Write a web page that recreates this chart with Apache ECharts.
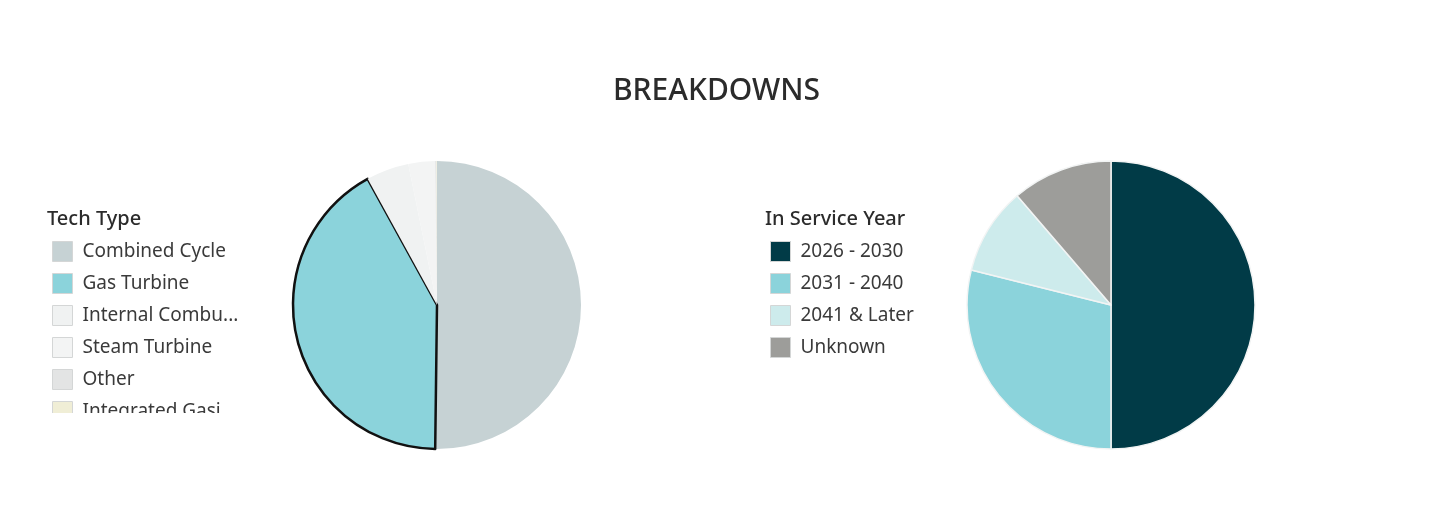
<!DOCTYPE html>
<html>
<head>
<meta charset="utf-8">
<script src="https://cdn.jsdelivr.net/npm/echarts@6/dist/echarts.min.js"></script>
<style>
  html, body { margin: 0; padding: 0; background: #fff; }
  #main { width: 1456px; height: 520px; }
</style>
</head>
<body>
<div id="main"></div>
<script>
// tech type breakdown (share of capacity, %)
var techNames = ['Combined Cycle', 'Gas Turbine', 'Internal Combustion Engine', 'Steam Turbine', 'Other', 'Integrated Gasification Combined Cycle'];
var techValues = [50.2, 41.8, 4.8, 3.0, 0.15, 0.05];
var techColors = ['#c6d2d4', '#8bd3db', '#f0f2f2', '#f3f4f4', '#e3e4e4', '#f0eed6'];

// in service year breakdown (%)
var yearNames = ['2026 - 2030', '2031 - 2040', '2041 & Later', 'Unknown'];
var yearValues = [50.0, 28.9, 9.8, 11.3];
var yearColors = ['#013b47', '#8bd3db', '#cdebec', '#9d9d9a'];

var font = 'Noto Sans';

function toData(names, values, colors) {
    return names.map(function (n, i) {
        return { name: n, value: values[i], itemStyle: { color: colors[i] } };
    });
}

var techData = toData(techNames, techValues, techColors);
// highlighted slice
techData[1].itemStyle.borderColor = '#111';
techData[1].itemStyle.borderWidth = 2.5;

var yearData = toData(yearNames, yearValues, yearColors);

var legendBase = {
    orient: 'vertical',
    icon: 'rect',
    itemWidth: 20,
    itemHeight: 20,
    itemGap: 11,
    padding: 0,
    selectedMode: false,
    itemStyle: { borderColor: '#d4d6d6', borderWidth: 1 },
    textStyle: {
        fontFamily: font,
        fontSize: 19,
        lineHeight: 20,
        color: '#3a3a3a',
        padding: [0, 0, 0, 5],
        width: 158,
        overflow: 'truncate',
        ellipsis: '...'
    }
};

var chart = echarts.init(document.getElementById('main'));
var option = {
    animation: false,
    title: [{
        text: 'BREAKDOWNS',
        left: 613,
        top: 76,
        padding: 0,
        textStyle: { fontFamily: font, fontSize: 30, fontWeight: 500, color: '#2b2b2b' }
    }, {
        text: 'Tech Type',
        left: 47,
        top: 209,
        padding: 0,
        textStyle: { fontFamily: font, fontSize: 20, fontWeight: 500, color: '#2b2b2b' }
    }, {
        text: 'In Service Year',
        left: 765,
        top: 209,
        padding: 0,
        textStyle: { fontFamily: font, fontSize: 20, fontWeight: 500, color: '#2b2b2b' }
    }],
    legend: [
        Object.assign({}, legendBase, { left: 52, top: 241, data: techNames }),
        Object.assign({}, legendBase, { left: 770, top: 241, data: yearNames })
    ],
    graphic: [{
        // legend is cut off at the bottom of its box
        type: 'rect',
        z: 100,
        shape: { x: 40, y: 413, width: 230, height: 40 },
        style: { fill: '#fff' }
    }],
    series: [{
        name: 'Tech Type',
        type: 'pie',
        center: [437, 305],
        radius: [0, 144],
        startAngle: 90,
        label: { show: false },
        labelLine: { show: false },
        emphasis: { disabled: true },
        itemStyle: { borderWidth: 0 },
        data: techData
    }, {
        name: 'In Service Year',
        type: 'pie',
        center: [1111, 305],
        radius: [0, 144],
        startAngle: 90,
        label: { show: false },
        labelLine: { show: false },
        emphasis: { disabled: true },
        itemStyle: { borderColor: '#f2f4f4', borderWidth: 1.5 },
        data: yearData
    }]
};
chart.setOption(option);
</script>
</body>
</html>
